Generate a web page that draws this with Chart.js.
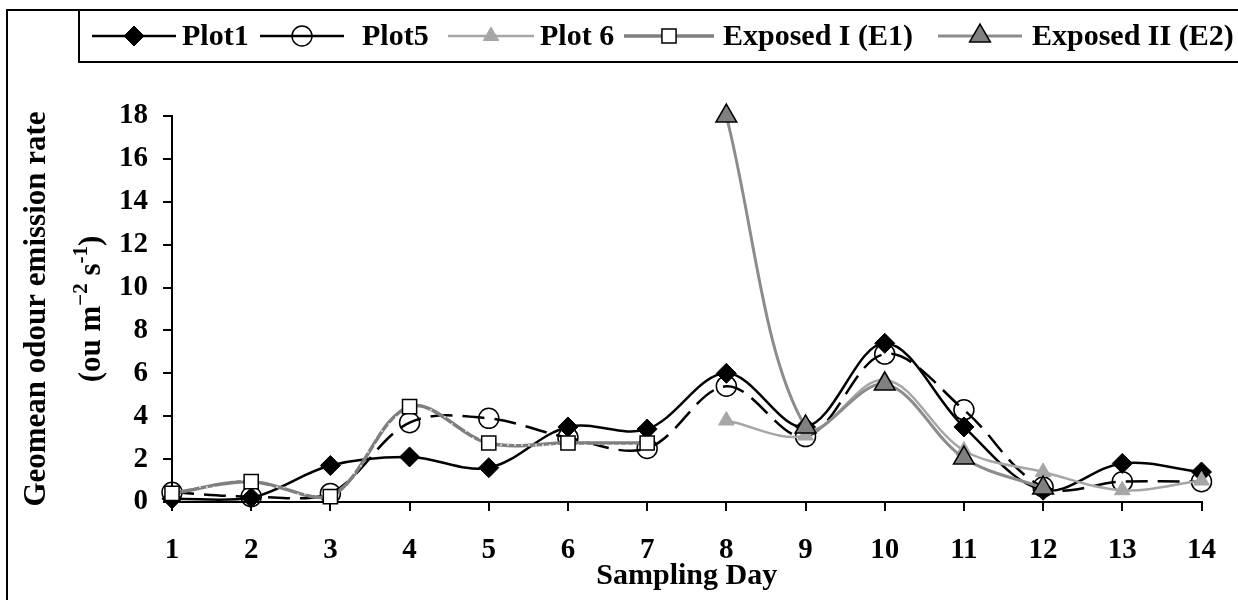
<!DOCTYPE html>
<html><head><meta charset="utf-8">
<script src="https://cdn.jsdelivr.net/npm/chart.js@4.4.1/dist/chart.umd.min.js"></script>
<style>html,body{margin:0;padding:0;background:#fff;} #wrap{width:1238px;height:600px;position:relative;}</style>
</head><body><div id="wrap"><canvas id="c" width="1238" height="600"></canvas></div>
<script>
// ---- data ----
const days = ['1','2','3','4','5','6','7','8','9','10','11','12','13','14'];
const plot1 = [0.15, 0.2, 1.7, 2.1, 1.6, 3.5, 3.4, 6.0, 3.5, 7.4, 3.5, 0.55, 1.8, 1.4];
const plot5 = [0.45, 0.25, 0.4, 3.7, 3.9, 3.0, 2.5, 5.4, 3.05, 6.9, 4.3, 0.7, 0.95, 0.95];
const plot6 = [null, null, null, null, null, null, null, 3.8, 3.1, 5.7, 2.4, 1.4, 0.55, 1.0];
const exposed1 = [0.4, 0.95, 0.25, 4.45, 2.75, 2.75, 2.75, null, null, null, null, null, null, null];
const exposed2 = [null, null, null, null, null, null, null, 18, 3.5, 5.5, 2.05, 0.65, null, null];
const seriesNames = ['Plot1', 'Plot5', 'Plot 6', 'Exposed I (E1)', 'Exposed II (E2)'];
const yMin = 0, yMax = 18, yStep = 2;
const xTitle = 'Sampling Day';
const yTitleLine1 = 'Geomean odour emission rate';
const yTitleLine2 = [['(ou m', false], ['\u22122', true], [' s', false], ['-1', true], [')', false]];

const FONT = '"Liberation Serif", "Times New Roman", serif';

// dotted grey pattern for Exposed I line
function makePattern() {
  const p = document.createElement('canvas');
  p.width = 7; p.height = 7;
  const g = p.getContext('2d');
  g.fillStyle = '#7f7f7f'; g.fillRect(0, 0, 7, 7);
  g.fillStyle = '#c8c8c8'; g.fillRect(3, 3, 2, 2);
  return g.createPattern(p, 'repeat');
}
const e1Pattern = makePattern();

const ctx0 = document.getElementById('c').getContext('2d');

const datasets = [
  { label: seriesNames[0], data: plot1, borderColor: '#000', borderWidth: 2.5, clip: false,
    pointStyle: 'rectRot', pointRadius: 10, pointBackgroundColor: '#000', pointBorderColor: '#000', pointBorderWidth: 1, order: 5 },
  { label: seriesNames[1], data: plot5, borderColor: '#000', borderWidth: 2.5, borderDash: [22, 10], clip: false,
    pointStyle: 'circle', pointRadius: 10, pointBackgroundColor: 'rgba(0,0,0,0)', pointBorderColor: '#000', pointBorderWidth: 1.5, order: 4 },
  { label: seriesNames[2], data: plot6, borderColor: '#a6a6a6', borderWidth: 2.5, clip: false,
    pointStyle: 'triangle', pointRadius: 9, pointBackgroundColor: '#a6a6a6', pointBorderColor: '#a6a6a6', pointBorderWidth: 1, order: 3 },
  { label: seriesNames[3], data: exposed1, borderColor: e1Pattern, borderWidth: 3.5, clip: false,
    pointStyle: 'rect', pointRadius: 10, pointBackgroundColor: '#fff', pointBorderColor: '#000', pointBorderWidth: 1.5, order: 2 },
  { label: seriesNames[4], data: exposed2, borderColor: '#8c8c8c', borderWidth: 3, clip: false,
    pointStyle: 'triangle', pointRadius: 12, pointBackgroundColor: '#808080', pointBorderColor: '#000', pointBorderWidth: 1.5, order: 1 }
];

function drawMarker(ctx, style, x, y, r, fill, stroke, bw) {
  ctx.save();
  ctx.beginPath();
  if (style === 'rectRot') {
    ctx.moveTo(x, y - r); ctx.lineTo(x + r, y); ctx.lineTo(x, y + r); ctx.lineTo(x - r, y); ctx.closePath();
  } else if (style === 'circle') {
    ctx.arc(x, y, r, 0, Math.PI * 2);
  } else if (style === 'triangle') {
    ctx.moveTo(x, y - r);
    ctx.lineTo(x + Math.sin(2 * Math.PI / 3) * r, y - Math.cos(2 * Math.PI / 3) * r);
    ctx.lineTo(x - Math.sin(2 * Math.PI / 3) * r, y - Math.cos(2 * Math.PI / 3) * r);
    ctx.closePath();
  } else if (style === 'rect') {
    const s = r * Math.SQRT1_2;
    ctx.rect(x - s, y - s, 2 * s, 2 * s);
  }
  ctx.fillStyle = fill; ctx.fill();
  if (bw > 0) { ctx.lineWidth = bw; ctx.strokeStyle = stroke; ctx.stroke(); }
  ctx.restore();
}

const deco = {
  id: 'deco',
  afterDraw(chart) {
    const ctx = chart.ctx;
    ctx.save();
    ctx.strokeStyle = '#000'; ctx.lineWidth = 2;
    ctx.beginPath(); ctx.moveTo(7, 601); ctx.lineTo(7, 10); ctx.lineTo(1240, 10); ctx.stroke();
    ctx.beginPath(); ctx.moveTo(79, 10); ctx.lineTo(79, 62); ctx.lineTo(1240, 62); ctx.stroke();

    // legend
    const pos = [
      { x0: 92, x1: 176, tx: 182 },
      { x0: 260, x1: 344, tx: 362 },
      { x0: 448, x1: 534, tx: 540 },
      { x0: 624, x1: 714, tx: 723 },
      { x0: 938, x1: 1022, tx: 1032 }
    ];
    const ly = 36;
    chart.data.datasets.forEach((ds, i) => {
      const p = pos[i];
      ctx.save();
      ctx.strokeStyle = ds.borderColor; ctx.lineWidth = ds.borderWidth;
      ctx.beginPath(); ctx.moveTo(p.x0, ly); ctx.lineTo(p.x1, ly); ctx.stroke();
      ctx.restore();
      drawMarker(ctx, ds.pointStyle, (p.x0 + p.x1) / 2, ly, ds.pointRadius, ds.pointBackgroundColor, ds.pointBorderColor, ds.pointBorderWidth);
      ctx.fillStyle = '#000'; ctx.font = 'bold 30px ' + FONT;
      ctx.textAlign = 'left'; ctx.textBaseline = 'middle';
      ctx.fillText(ds.label, p.tx, ly + 1);
    });

    // y-axis title
    const cy = (chart.chartArea.top + chart.chartArea.bottom) / 2;
    ctx.save();
    ctx.translate(45, cy); ctx.rotate(-Math.PI / 2);
    ctx.fillStyle = '#000'; ctx.textBaseline = 'alphabetic'; ctx.textAlign = 'center';
    ctx.font = 'bold 31px ' + FONT;
    ctx.fillText(yTitleLine1, 0, 0);
    ctx.restore();

    ctx.save();
    ctx.translate(100, cy); ctx.rotate(-Math.PI / 2);
    ctx.fillStyle = '#000'; ctx.textBaseline = 'alphabetic'; ctx.textAlign = 'left';
    const big = 'bold 31px ' + FONT, small = 'bold 21px ' + FONT;
    let total = 0;
    yTitleLine2.forEach(([t, sup]) => { ctx.font = sup ? small : big; total += ctx.measureText(t).width; });
    let x = -total / 2;
    yTitleLine2.forEach(([t, sup]) => {
      ctx.font = sup ? small : big;
      ctx.fillText(t, x, sup ? -13 : 0);
      x += ctx.measureText(t).width;
    });
    ctx.restore();
    ctx.restore();
  }
};

const tickFont = { family: FONT, size: 29, weight: 'bold' };

new Chart(ctx0, {
  type: 'line',
  data: { labels: days, datasets },
  options: {
    responsive: false, animation: false,
    layout: { padding: { left: 0, top: 116, right: 28, bottom: 0 } },
    plugins: { legend: { display: false }, tooltip: { enabled: false } },
    elements: { line: { tension: 0.35, fill: false } },
    scales: {
      x: {
        type: 'category', offset: false,
        afterFit(s) { s.height = 98; },
        grid: { display: true, drawOnChartArea: false, drawTicks: true, tickLength: 9, color: '#000', lineWidth: 2 },
        border: { display: true, color: '#000', width: 2 },
        ticks: { color: '#000', font: tickFont, padding: 22, autoSkip: false, maxRotation: 0 },
        title: { display: true, text: xTitle, color: '#000', font: { family: FONT, size: 30, weight: 'bold' }, padding: { top: 0, bottom: 6 } }
      },
      y: {
        min: yMin, max: yMax,
        afterFit(s) { s.width = 172; },
        grid: { display: true, drawOnChartArea: false, drawTicks: true, tickLength: 9, color: '#000', lineWidth: 2 },
        border: { display: true, color: '#000', width: 2 },
        ticks: { color: '#000', font: tickFont, padding: 15, stepSize: yStep }
      }
    }
  },
  plugins: [deco]
});
</script></body></html>
